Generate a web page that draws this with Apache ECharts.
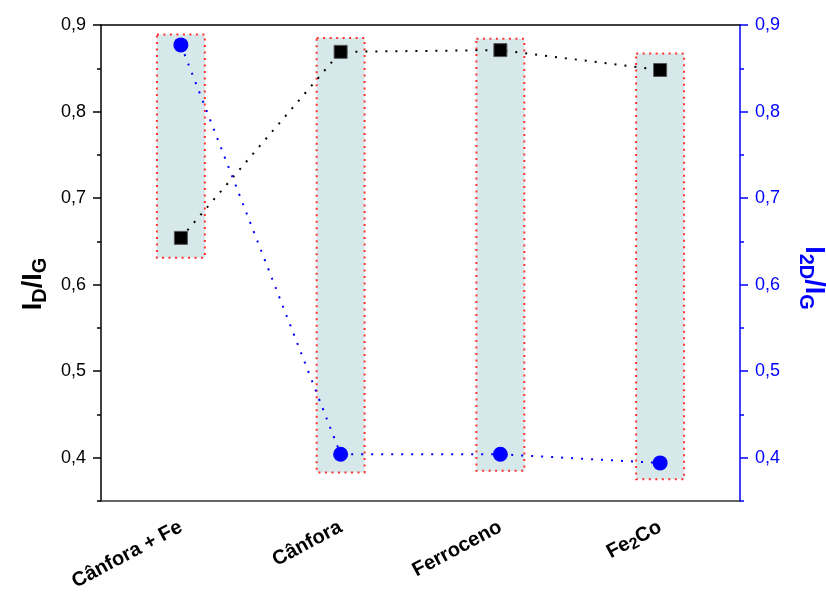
<!DOCTYPE html>
<html>
<head>
<meta charset="utf-8">
<script src="https://cdn.jsdelivr.net/npm/echarts@6/dist/echarts.min.js"></script>
<style>
  html, body { margin: 0; padding: 0; background: #ffffff; }
  #chart { width: 826px; height: 593px; }
</style>
</head>
<body>
<div id="chart"></div>
<script>
// Samples along the x axis
const categories = ['Cânfora + Fe', 'Cânfora', 'Ferroceno', 'Fe2Co'];
// I_D / I_G ratio (left axis, black squares)
const idIg = [0.654, 0.869, 0.871, 0.848];
// I_2D / I_G ratio (right axis, blue circles)
const i2dIg = [0.877, 0.404, 0.404, 0.394];
// Shaded range boxes per sample
const rangeLow = [0.631, 0.383, 0.385, 0.375];
const rangeHigh = [0.889, 0.885, 0.884, 0.867];
// Axis ticks
const majorTicks = [0.4, 0.5, 0.6, 0.7, 0.8, 0.9];
const minorTicks = [0.35, 0.45, 0.55, 0.65, 0.75, 0.85];
const yMin = 0.35;
const yMax = 0.9;

const FONT = 'Liberation Sans, Arial, sans-serif';
const comma = v => String(Math.round(v * 10) / 10).replace('.', ',');

function nameRich(color) {
  return {
    a: { fontFamily: FONT, fontSize: 27, fontWeight: 'bold', color: color, lineHeight: 34 },
    s: { fontFamily: FONT, fontSize: 20, fontWeight: 'bold', color: color, lineHeight: 20, verticalAlign: 'bottom' }
  };
}

function valueAxis(pos, color, ticks, isMain, nameText) {
  const ax = {
    type: 'value',
    position: pos,
    min: yMin,
    max: yMax,
    splitLine: { show: false },
    axisLine: { show: isMain, onZero: false, lineStyle: { color: color, width: 1.5 } },
    axisTick: { show: true, inside: false, length: isMain ? 8 : 4, customValues: ticks, lineStyle: { color: color, width: 1.5 } },
    axisLabel: isMain ? {
      show: true,
      customValues: ticks,
      formatter: comma,
      color: color,
      fontFamily: FONT,
      fontSize: 18,
      margin: 15
    } : { show: false }
  };
  if (isMain) {
    ax.name = nameText;
    ax.nameLocation = 'middle';
    ax.nameRotate = pos === 'left' ? 90 : -90;
    ax.nameGap = pos === 'left' ? 50 : 56;
    ax.nameTextStyle = {
      rich: nameRich(color),
      padding: pos === 'left' ? [0, 42, 0, 0] : [0, 0, 0, 30]
    };
  }
  return ax;
}

const labelFormatter = v => v === 'Fe2Co' ? '{b|Fe}{s|2}{b|Co}' : '{b|' + v + '}';

const chart = echarts.init(document.getElementById('chart'), null, { renderer: 'canvas' });

chart.setOption({
  animation: false,
  backgroundColor: '#ffffff',
  grid: { left: 101, right: 86, top: 25, bottom: 92, containLabel: false, outerBoundsMode: 'none' },
  xAxis: [
    {
      type: 'category',
      position: 'bottom',
      data: categories,
      boundaryGap: true,
      axisLine: { onZero: false, lineStyle: { color: '#333333', width: 1.5 } },
      axisTick: { alignWithLabel: true, length: 8, lineStyle: { color: '#333333', width: 1.5 } },
      axisLabel: {
        interval: 0,
        rotate: 28,
        margin: 25,
        formatter: labelFormatter,
        rich: {
          b: { fontFamily: FONT, fontSize: 20, fontWeight: 'bold', color: '#000', lineHeight: 24 },
          s: { fontFamily: FONT, fontSize: 16, fontWeight: 'bold', color: '#000', lineHeight: 16, verticalAlign: 'bottom' }
        }
      }
    },
    {
      // minor ticks between categories
      type: 'category',
      position: 'bottom',
      data: categories,
      boundaryGap: true,
      axisLine: { show: false, onZero: false },
      axisTick: { alignWithLabel: false, length: 4, interval: 0, lineStyle: { color: '#333333', width: 1.5 } },
      axisLabel: { show: false }
    },
    {
      // top frame line
      type: 'category',
      position: 'top',
      data: categories,
      axisLine: { onZero: false, lineStyle: { color: '#000000', width: 1.5 } },
      axisTick: { show: false },
      axisLabel: { show: false }
    }
  ],
  yAxis: [
    valueAxis('left', '#000000', majorTicks, true, '{a|I}{s|D}{a|/I}{s|G}'),
    valueAxis('right', '#0000ff', majorTicks, true, '{a|I}{s|2D}{a|/I}{s|G}'),
    valueAxis('left', '#000000', minorTicks, false),
    valueAxis('right', '#0000ff', minorTicks, false)
  ],
  series: [
    {
      type: 'custom',
      xAxisIndex: 0,
      yAxisIndex: 0,
      z: 1,
      silent: true,
      data: categories.map((c, i) => [i, rangeLow[i], rangeHigh[i]]),
      encode: { x: 0, y: [1, 2] },
      renderItem: function (params, api) {
        const lo = api.coord([api.value(0), api.value(1)]);
        const hi = api.coord([api.value(0), api.value(2)]);
        const w = api.size([1, 0])[0] * 0.3;
        return {
          type: 'rect',
          shape: { x: lo[0] - w / 2, y: hi[1], width: w, height: lo[1] - hi[1] },
          style: { fill: '#d6e8ea', stroke: '#ff3030', lineWidth: 2, lineDash: [2, 4.5] }
        };
      }
    },
    {
      type: 'line',
      name: 'ID/IG',
      xAxisIndex: 0,
      yAxisIndex: 0,
      z: 3,
      data: idIg,
      symbol: 'rect',
      symbolSize: 13,
      itemStyle: { color: '#000000', borderColor: '#555555', borderWidth: 1 },
      lineStyle: { color: '#000000', width: 2, type: [2, 8] }
    },
    {
      type: 'line',
      name: 'I2D/IG',
      xAxisIndex: 0,
      yAxisIndex: 1,
      z: 3,
      data: i2dIg,
      symbol: 'circle',
      symbolSize: 15,
      itemStyle: { color: '#0000ff', borderWidth: 0 },
      lineStyle: { color: '#0000ff', width: 2, type: [2, 8] }
    }
  ]
});
</script>
</body>
</html>
